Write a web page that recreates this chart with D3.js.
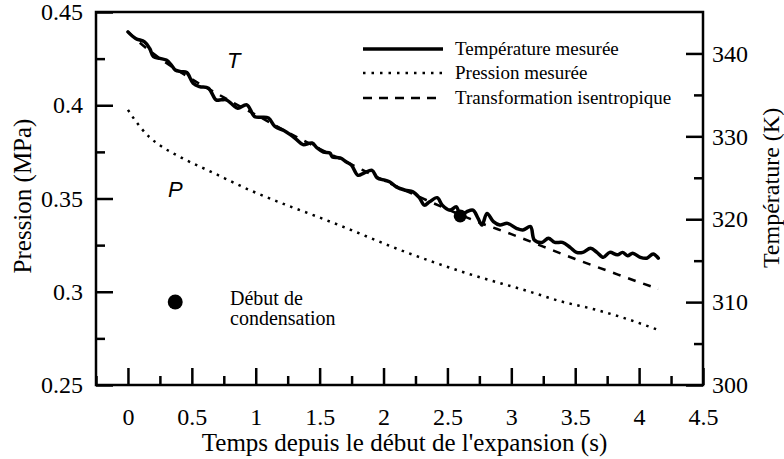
<!DOCTYPE html>
<html><head><meta charset="utf-8">
<script src="https://cdn.jsdelivr.net/npm/d3@7"></script>
<style>
body{margin:0;background:#fff;}
svg text{font-family:"Liberation Serif","Times New Roman",serif;fill:#000;}
</style></head>
<body><svg id="c" width="784" height="459"></svg>
<script>
// ---- data ----
const tempTime = [0.00,0.06,0.13,0.17,0.20,0.25,0.30,0.34,0.37,0.42,0.46,0.51,0.56,0.63,0.69,0.73,0.77,0.82,0.86,0.93,0.99,1.04,1.10,1.15,1.22,1.27,1.32,1.37,1.44,1.48,1.53,1.58,1.60,1.66,1.71,1.75,1.80,1.85,1.91,1.95,2.01,2.05,2.10,2.17,2.23,2.28,2.32,2.36,2.42,2.46,2.52,2.57,2.60,2.65,2.70,2.74,2.77,2.81,2.86,2.91,2.97,3.04,3.09,3.15,3.18,3.24,3.29,3.34,3.40,3.46,3.51,3.56,3.62,3.67,3.72,3.77,3.83,3.87,3.91,3.95,4.01,4.06,4.11,4.15];
const tempMeasured = [342.6,341.8,341.4,340.6,339.6,339.4,339.2,338.6,338.0,337.8,337.7,336.4,336.0,335.8,334.4,334.4,334.4,333.8,333.4,333.8,332.4,332.3,332.2,331.2,330.7,330.2,329.6,329.0,329.2,328.6,328.1,328.0,327.5,327.4,326.9,326.5,325.3,325.6,325.9,325.0,324.7,324.5,323.9,323.5,323.3,322.6,321.7,322.1,322.6,321.7,321.1,321.5,320.5,320.9,321.1,320.1,319.3,320.7,319.7,319.3,319.5,318.9,318.7,319.1,317.5,317.2,317.7,317.2,317.2,316.6,316.0,316.0,316.5,316.0,315.4,316.0,315.7,316.0,315.6,315.9,315.4,315.3,315.8,315.3];

const presTime = [0,0.05,0.1,0.17,0.25,0.41,0.67,0.95,1.24,1.5,1.75,2.1,2.62,3.15,3.38,3.67,3.87,4.15];
const presMeasured = [0.3975,0.3925,0.388,0.3828,0.3785,0.3722,0.3637,0.3546,0.3465,0.3398,0.3330,0.3232,0.3106,0.2999,0.2950,0.2902,0.2862,0.2795];

const isenTime = [0,0.1,0.25,0.5,0.75,1.0,1.25,1.5,1.75,2.0,2.25,2.5,2.75,3.0,3.25,3.5,3.75,4.0,4.15];
const isenTemp = [342.6,341.2,339.4,336.9,334.7,332.6,330.5,328.5,326.6,324.7,322.9,321.2,319.6,318.2,316.7,315.2,313.8,312.4,311.6];

const condensationPressurePoint = [0.37, 0.2945];  // time, pressure
const condensationTempPoint = [2.60, 320.4];       // time, temperature

const xTicks = [0,0.5,1,1.5,2,2.5,3,3.5,4,4.5];
const xTickLabels = ["0","0.5","1","1.5","2","2.5","3","3.5","4","4.5"];
const xMinor = [-0.25,0.25,0.75,1.25,1.75,2.25,2.75,3.25,3.75,4.25];
const pTicks = [0.25,0.3,0.35,0.4,0.45];
const pTickLabels = ["0.25","0.3","0.35","0.4","0.45"];
const pMinor = [0.275,0.325,0.375,0.425];
const tTicks = [300,310,320,330,340];
const tTickLabels = ["300","310","320","330","340"];
const tMinor = [305,315,325,335];

const legendLabels = ["Température mesurée","Pression mesurée","Transformation isentropique"];
const xTitle = "Temps depuis le début de l'expansion (s)";
const yLeftTitle = "Pression (MPa)";
const yRightTitle = "Température (K)";

// ---- chart ----
const SERIF = "'Liberation Serif','Times New Roman',serif";
const SANS = "'Liberation Sans',Arial,sans-serif";
const svg = d3.select("#c");
const L=96, R=703, T=12, B=385;
const x = d3.scaleLinear().domain([-0.25,4.5]).range([L,R]);
const yP = d3.scaleLinear().domain([0.25,0.45]).range([B,T]);
const yT = d3.scaleLinear().domain([300,345]).range([B,T]);

function styleAxis(g){
  g.attr("font-family",SERIF).attr("font-size",24);
  g.select(".domain").remove();
  g.selectAll(".tick line").attr("stroke","#000").attr("stroke-width",2.5);
  g.selectAll(".tick text").attr("font-family",SERIF).style("font-family",SERIF).style("font-size","24px").attr("fill","#000");
}
// bottom
svg.append("g").attr("transform",`translate(0,${B})`)
  .call(d3.axisBottom(x).tickValues(xTicks).tickSize(-17).tickPadding(23).tickFormat((d,i)=>xTickLabels[i]))
  .call(styleAxis);
svg.append("g").attr("transform",`translate(0,${B})`)
  .call(d3.axisBottom(x).tickValues(xMinor).tickSize(-9).tickFormat(""))
  .call(styleAxis);
// left
svg.append("g").attr("transform",`translate(${L},0)`)
  .call(d3.axisLeft(yP).tickValues(pTicks).tickSize(-17).tickPadding(13).tickFormat((d,i)=>pTickLabels[i]))
  .call(styleAxis);
svg.append("g").attr("transform",`translate(${L},0)`)
  .call(d3.axisLeft(yP).tickValues(pMinor).tickSize(-9).tickFormat(""))
  .call(styleAxis);
// right
svg.append("g").attr("transform",`translate(${R},0)`)
  .call(d3.axisRight(yT).tickValues(tTicks).tickSize(-17).tickPadding(9).tickFormat((d,i)=>tTickLabels[i]))
  .call(styleAxis);
svg.append("g").attr("transform",`translate(${R},0)`)
  .call(d3.axisRight(yT).tickValues(tMinor).tickSize(-9).tickFormat(""))
  .call(styleAxis);

// frame
svg.append("rect").attr("x",L).attr("y",T).attr("width",R-L).attr("height",B-T)
  .attr("fill","none").attr("stroke","#000").attr("stroke-width",2.5);

// titles
svg.append("text").attr("x",(L+R)/2+5).attr("y",451).attr("text-anchor","middle")
  .style("font-family",SERIF).style("font-size","25px").text(xTitle);
svg.append("text").attr("transform",`translate(31,196) rotate(-90)`).attr("text-anchor","middle")
  .style("font-family",SERIF).style("font-size","25px").text(yLeftTitle);
svg.append("text").attr("transform",`translate(779,188) rotate(-90)`).attr("text-anchor","middle")
  .style("font-family",SERIF).style("font-size","24px").text(yRightTitle);

// lines
const pd = presTime.map((t,i)=>[t,presMeasured[i]]);
svg.append("path").datum(pd).attr("fill","none").attr("stroke","#000").attr("stroke-width",2.5)
  .attr("stroke-dasharray","2.5,5.5")
  .attr("d",d3.line().x(d=>x(d[0])).y(d=>yP(d[1])).curve(d3.curveMonotoneX));
const id = isenTime.map((t,i)=>[t,isenTemp[i]]);
svg.append("path").datum(id).attr("fill","none").attr("stroke","#000").attr("stroke-width",2.5)
  .attr("stroke-dasharray","8,8")
  .attr("d",d3.line().x(d=>x(d[0])).y(d=>yT(d[1])).curve(d3.curveMonotoneX));
const td = tempTime.map((t,i)=>[t,tempMeasured[i]]);
svg.append("path").datum(td).attr("fill","none").attr("stroke","#000").attr("stroke-width",3.5)
  .attr("stroke-linejoin","round").attr("stroke-linecap","round")
  .attr("d",d3.line().x(d=>x(d[0])).y(d=>yT(d[1])).curve(d3.curveCatmullRom));

// condensation dots
svg.append("circle").attr("cx",x(condensationPressurePoint[0])).attr("cy",yP(condensationPressurePoint[1])).attr("r",7.5);
svg.append("circle").attr("cx",x(condensationTempPoint[0])).attr("cy",yT(condensationTempPoint[1])).attr("r",6.5);

// annotations
svg.append("text").attr("x",227).attr("y",68).style("font-family",SANS)
  .style("font-style","italic").style("font-size","22px").text("T");
svg.append("text").attr("x",168).attr("y",197).style("font-family",SANS)
  .style("font-style","italic").style("font-size","22px").text("P");
svg.append("text").attr("x",230).attr("y",305).style("font-family",SERIF).style("font-size","20px").text("Début de");
svg.append("text").attr("x",230).attr("y",325).style("font-family",SERIF).style("font-size","20px").text("condensation");

// legend
const legY = [49,73,98];
const dashes = [null,"2.5,6","9,7"];
const widths = [3.5,2.5,2.5];
legendLabels.forEach((lab,i)=>{
  const ln = svg.append("line").attr("x1",363).attr("x2",443).attr("y1",legY[i]).attr("y2",legY[i])
    .attr("stroke","#000").attr("stroke-width",widths[i]);
  if(dashes[i]) ln.attr("stroke-dasharray",dashes[i]);
  svg.append("text").attr("x",455).attr("y",legY[i]+6).style("font-family",SERIF).style("font-size","19px").text(lab);
});
</script></body></html>
